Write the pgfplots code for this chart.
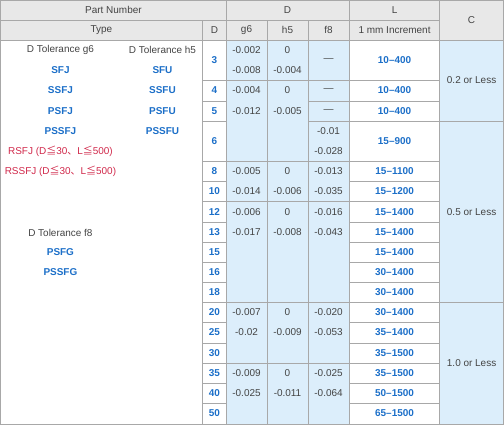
\documentclass[border=0pt]{standalone}
\usepackage{pgfplots}
\pgfplotsset{compat=1.18}
\usepackage{fontspec}
\setmainfont{Liberation Sans}
\newfontfamily\cjk{Noto Sans CJK JP}
\definecolor{hdr}{HTML}{E8E8E8}
\definecolor{lb}{HTML}{DCEEFB}
\definecolor{gl}{HTML}{A8A8A8}
\definecolor{tx}{HTML}{444444}
\definecolor{bt}{HTML}{1C6FC8}
\definecolor{rt}{HTML}{D0284A}
\begin{document}
\begin{tikzpicture}[font=\fontsize{10}{12}\selectfont]
\begin{axis}[width=504bp,height=428bp,scale only axis,xmin=0,xmax=504,ymin=0,ymax=428,y dir=reverse,hide axis,clip=false]
\fill[hdr] (0,0) rectangle (503,40);
\fill[lb] (226,40) rectangle (349,424);
\fill[lb] (439,40) rectangle (503,424);
\begin{scope}[draw=gl,line width=0.8bp]
\draw (0,0) rectangle (503,424);
\draw (226,0)--(226,424); \draw (349,0)--(349,424); \draw (439,0)--(439,424);
\draw (202,20)--(202,424); \draw (267,20)--(267,424); \draw (308,20)--(308,424);
\draw (0,20)--(439,20); \draw (0,40)--(503,40);
\draw (202,80)--(226,80) (202,101)--(226,101) (202,121)--(226,121) (202,161)--(226,161) (202,181)--(226,181) (202,201)--(226,201) (202,222)--(226,222) (202,242)--(226,242) (202,262)--(226,262) (202,282)--(226,282) (202,302)--(226,302) (202,322)--(226,322) (202,343)--(226,343) (202,363)--(226,363) (202,383)--(226,383) (202,403)--(226,403);
\draw (349,80)--(439,80) (349,101)--(439,101) (349,121)--(439,121) (349,161)--(439,161) (349,181)--(439,181) (349,201)--(439,201) (349,222)--(439,222) (349,242)--(439,242) (349,262)--(439,262) (349,282)--(439,282) (349,302)--(439,302) (349,322)--(439,322) (349,343)--(439,343) (349,363)--(439,363) (349,383)--(439,383) (349,403)--(439,403);
\draw (226,80)--(308,80) (226,161)--(308,161) (226,201)--(308,201) (226,302)--(308,302) (226,363)--(308,363);
\draw (308,80)--(349,80) (308,101)--(349,101) (308,121)--(349,121) (308,161)--(349,161) (308,201)--(349,201) (308,302)--(349,302) (308,363)--(349,363);
\draw (439,121)--(503,121) (439,302)--(503,302);
\end{scope}
\begin{scope}[text=tx]
\node at (113,10) {Part Number};
\node at (287,10) {D};
\node at (394,10) {L};
\node at (471,20) {C};
\node at (101,30) {Type};
\node at (214,30) {D};
\node at (246,30) {g6};
\node at (287,30) {h5};
\node at (328,30) {f8};
\node at (394,30) {1 mm Increment};
\node at (60,50) {D Tolerance g6};
\node at (162,50) {D Tolerance h5};
\node at (60,232) {D Tolerance f8};
\node at (246,50) {-0.002}; \node at (246,70) {-0.008};
\node at (246,90) {-0.004}; \node at (246,111) {-0.012};
\node at (246,171) {-0.005}; \node at (246,191) {-0.014};
\node at (246,212) {-0.006}; \node at (246,232) {-0.017};
\node at (246,312) {-0.007}; \node at (246,332) {-0.02};
\node at (246,373) {-0.009}; \node at (246,393) {-0.025};
\node at (287,50) {0}; \node at (287,70) {-0.004};
\node at (287,90) {0}; \node at (287,111) {-0.005};
\node at (287,171) {0}; \node at (287,191) {-0.006};
\node at (287,212) {0}; \node at (287,232) {-0.008};
\node at (287,312) {0}; \node at (287,332) {-0.009};
\node at (287,373) {0}; \node at (287,393) {-0.011};
\node at (328,60) {—}; \node at (328,90) {—}; \node at (328,111) {—};
\node at (328,131) {-0.01}; \node at (328,151) {-0.028};
\node at (328,171) {-0.013}; \node at (328,191) {-0.035};
\node at (328,212) {-0.016}; \node at (328,232) {-0.043};
\node at (328,312) {-0.020}; \node at (328,332) {-0.053};
\node at (328,373) {-0.025}; \node at (328,393) {-0.064};
\node at (471,80) {0.2 or Less};
\node at (471,212) {0.5 or Less};
\node at (471,363) {1.0 or Less};
\end{scope}
\begin{scope}[text=bt,font=\fontsize{10}{12}\selectfont\bfseries]
\node at (60,70) {SFJ}; \node at (162,70) {SFU};
\node at (60,90) {SSFJ}; \node at (162,90) {SSFU};
\node at (60,111) {PSFJ}; \node at (162,111) {PSFU};
\node at (60,131) {PSSFJ}; \node at (162,131) {PSSFU};
\node at (60,252) {PSFG}; \node at (60,272) {PSSFG};
\node at (214,60) {3}; \node at (214,90) {4}; \node at (214,111) {5}; \node at (214,141) {6};
\node at (214,171) {8}; \node at (214,191) {10}; \node at (214,212) {12}; \node at (214,232) {13};
\node at (214,252) {15}; \node at (214,272) {16}; \node at (214,292) {18}; \node at (214,312) {20};
\node at (214,332) {25}; \node at (214,353) {30}; \node at (214,373) {35}; \node at (214,393) {40};
\node at (214,413) {50};
\node at (394,60) {10–400}; \node at (394,90) {10–400}; \node at (394,111) {10–400};
\node at (394,141) {15–900}; \node at (394,171) {15–1100}; \node at (394,191) {15–1200};
\node at (394,212) {15–1400}; \node at (394,232) {15–1400}; \node at (394,252) {15–1400};
\node at (394,272) {30–1400}; \node at (394,292) {30–1400}; \node at (394,312) {30–1400};
\node at (394,332) {35–1400}; \node at (394,353) {35–1500}; \node at (394,373) {35–1500};
\node at (394,393) {50–1500}; \node at (394,413) {65–1500};
\end{scope}
\node[text=rt] at (60,151) {RSFJ (D{\cjk ≦}30{\cjk 、}L{\cjk ≦}500)};
\node[text=rt] at (60,171) {RSSFJ (D{\cjk ≦}30{\cjk 、}L{\cjk ≦}500)};
\end{axis}
\end{tikzpicture}
\end{document}
